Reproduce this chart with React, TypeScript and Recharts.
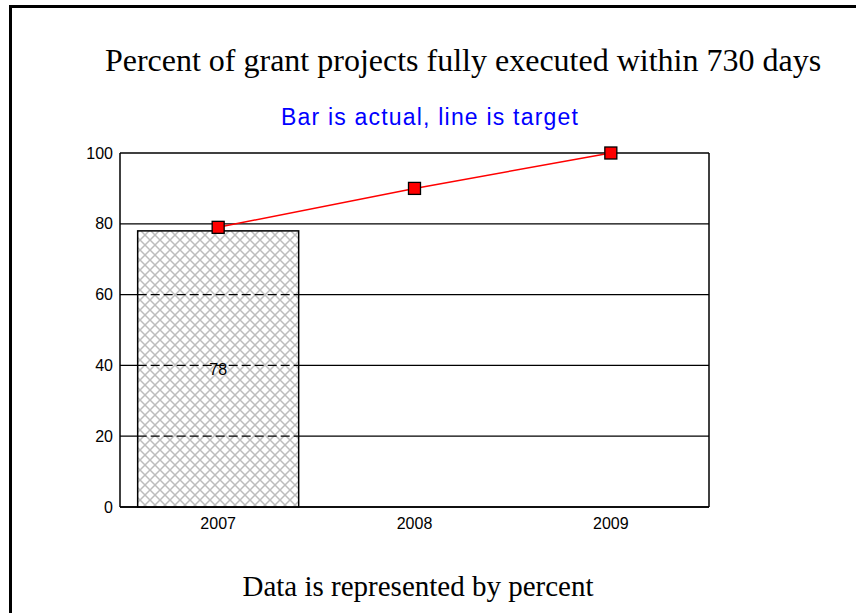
import { ComposedChart, Bar, Line, XAxis, YAxis, CartesianGrid, LabelList } from "recharts";

const years = ["2007", "2008", "2009"];
const actual = [78, null, null];
const target = [79, 90, 100];
const yTicks = [0, 20, 40, 60, 80, 100];

const rows = years.map((y, i) => ({ year: y, actual: actual[i], target: target[i] }));

const TICK_FONT = { fontFamily: "Arial, 'Liberation Sans', sans-serif", fontSize: 16, fill: "#000" };

function HatchBar(props: any) {
  const { x, y, width, height, value } = props;
  if (!height || height <= 0) return null;
  // grid lines seen through the hatch show up dashed
  const inside = yTicks.filter((t) => t > 0 && t < value);
  return (
    <g>
      <defs>
        <pattern id="xhatch" width="10" height="10" patternUnits="userSpaceOnUse">
          <rect width="10" height="10" fill="#fff" />
          <path d="M0,0 L10,10 M10,0 L0,10" stroke="#bdbdbd" strokeWidth="1.5" />
        </pattern>
      </defs>
      <rect x={x} y={y} width={width} height={height} fill="url(#xhatch)" stroke="#000" strokeWidth={1.5} />
      {inside.map((t) => {
        const ly = y + height - (t / value) * height;
        return <line key={t} x1={x} x2={x + width} y1={ly} y2={ly} stroke="#000" strokeWidth={1.3} strokeDasharray="9 4" />;
      })}
    </g>
  );
}

function SquareDot(props: any) {
  const { cx, cy } = props;
  if (cx == null || cy == null) return null;
  return <rect x={cx - 6} y={cy - 6} width={12} height={12} fill="#ff0000" stroke="#000" strokeWidth={1.3} />;
}

export default function App() {
  return (
    <div style={{ position: "absolute", left: 0, top: 0, width: 856, height: 613, background: "#fff", overflow: "hidden" }}>
      <div style={{ position: "absolute", left: 9, top: 5, width: 900, height: 700, borderLeft: "3px solid #000", borderTop: "3px solid #000" }} />
      <div style={{ position: "absolute", left: 63, top: 44, width: 800, textAlign: "center", fontFamily: "'Liberation Serif', 'Times New Roman', serif", fontSize: 32, lineHeight: "32px", color: "#000", whiteSpace: "nowrap" }}>
        Percent of grant projects fully executed within 730 days
      </div>
      <div style={{ position: "absolute", left: 230, top: 106, width: 400, textAlign: "center", fontFamily: "Arial, 'Liberation Sans', sans-serif", fontSize: 23, lineHeight: "23px", letterSpacing: 1.2, color: "#0000ff", whiteSpace: "nowrap" }}>
        Bar is actual, line is target
      </div>
      <div style={{ position: "absolute", left: 118, top: 572, width: 600, textAlign: "center", fontFamily: "'Liberation Serif', 'Times New Roman', serif", fontSize: 29, lineHeight: "29px", color: "#000", whiteSpace: "nowrap" }}>
        Data is represented by percent
      </div>
      <div style={{ position: "absolute", left: 0, top: 0 }}>
        <ComposedChart
          width={856}
          height={613}
          data={rows}
          margin={{ top: 153, right: 146, bottom: 76, left: 80 }}
          barCategoryGap="9%"
        >
          <CartesianGrid vertical={false} stroke="#000" strokeWidth={1.3} />
          <XAxis
            dataKey="year"
            tickLine={false}
            axisLine={{ stroke: "#000", strokeWidth: 1.5 }}
            tick={TICK_FONT}
            tickMargin={5}
            height={30}
          />
          <YAxis
            domain={[0, 100]}
            ticks={yTicks}
            tickLine={false}
            axisLine={{ stroke: "#000", strokeWidth: 1.5 }}
            tick={TICK_FONT}
            tickMargin={1}
            width={40}
          />
          <YAxis
            yAxisId="right"
            orientation="right"
            domain={[0, 100]}
            tick={false}
            tickLine={false}
            axisLine={{ stroke: "#000", strokeWidth: 1.5 }}
            width={1}
          />
          <Bar dataKey="actual" shape={<HatchBar />} isAnimationActive={false}>
            <LabelList dataKey="actual" position="center" fill="#000" fontSize={16} fontFamily="Arial, 'Liberation Sans', sans-serif" />
          </Bar>
          <Line
            dataKey="target"
            stroke="#ff0000"
            strokeWidth={1.5}
            dot={<SquareDot />}
            activeDot={false}
            isAnimationActive={false}
          />
        </ComposedChart>
      </div>
    </div>
  );
}
